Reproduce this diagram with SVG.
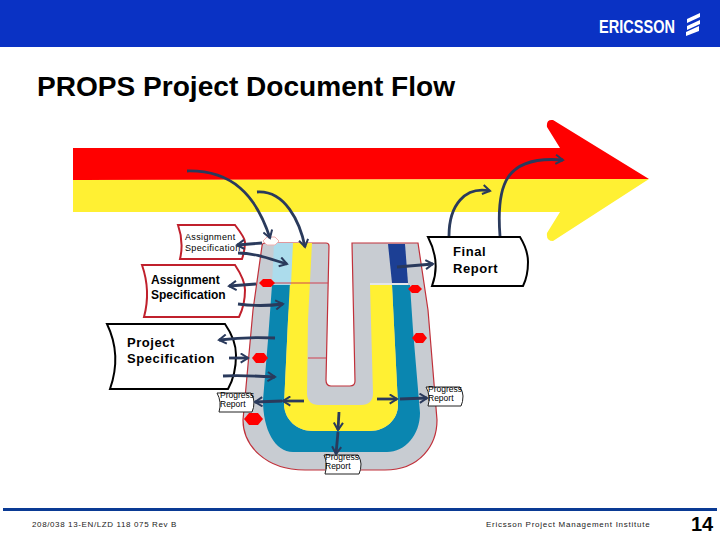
<svg xmlns="http://www.w3.org/2000/svg" width="720" height="540" viewBox="0 0 720 540">
<defs>
<marker id="ah" viewBox="0 0 12 12" refX="10" refY="6" markerWidth="11" markerHeight="11" markerUnits="userSpaceOnUse" orient="auto"><path d="M2,1 L10,6 L2,11" fill="none" stroke="#2a3a5c" stroke-width="2.2"/></marker>
</defs>
<style>
text{font-family:"Liberation Sans",Arial,sans-serif;fill:#000}
.doc{fill:#fff;stroke-width:2}
.r{stroke:#c0202c}
.k{stroke:#000}
.sm{font-size:9px;letter-spacing:.35px}
.md{font-size:12px;font-weight:bold}
.lg{font-size:13px;font-weight:bold;letter-spacing:.55px}
.pr{font-size:8.5px}
.pg{fill:#fff;stroke:#222;stroke-width:1}
.ft{font-size:8px;letter-spacing:.62px;fill:#222}
.dm{fill:#f00}
.c path{fill:none;stroke:#2a3a5c;stroke-width:2.8;marker-end:url(#ah)}
</style>
<rect width="720" height="47" fill="#0a32c4"/>
<text x="599" y="33" font-size="17.5" font-weight="bold" style="fill:#fff" textLength="76" lengthAdjust="spacingAndGlyphs">ERICSSON</text>
<g fill="#fff"><path d="M687,19 L700,13 L700,17 L687,23 Z"/><path d="M687,26 L700,20 L700,24 L687,30 Z"/><path d="M686,32 L699,26 L699,31 L686,36 Z"/></g>
<text x="37" y="96" font-size="27" font-weight="bold" textLength="418" lengthAdjust="spacingAndGlyphs">PROPS Project Document Flow</text>
<g id="big-arrow">
<path d="M73,148 L560,148 L547,127 Q546,119 553,120 L649,179 L73,180 Z" fill="#f00"/>
<path d="M73,180 L649,179 L553,241 Q546,241 547,233 L560,212 L73,212 Z" fill="#fff033"/>
</g>
<g id="u-shape">
<path d="M265,243 L326,243 Q329,243 329,246 L326,380 Q326,386 331,386 L350,386 Q355,386 355,381 L352,243 L418,243 L428,310 L437,420 C437,445 420,470 385,470 L305,470 C265,470 243,445 243,420 L253,310 L262,246 Q262,243 265,243 Z" fill="#c8ccd2" stroke="#c0303a" stroke-width="1.2"/>
<path d="M272,285 L291,285 L288,320 L284,405 C285,420 297,431 313,431 L370,431 C385,431 398,420 398,405 L392,285 L410,285 L413,330 L420,413 C420,435 405,452 387,452 L293,452 C275,452 263,430 263,400 L268,340 Z" fill="#0a86b0"/>
<path d="M292,243 L312,243 L308,320 L307,393 Q307,405 319,405 L361,405 Q373,405 373,393 L370,285 L392,285 L398,405 C398,420 385,431 370,431 L313,431 C297,431 285,420 284,405 L288,320 Z" fill="#fff033"/>
<path d="M274,243 L293,243 L291,285 L272,285 Z" fill="#acdcec"/>
<path d="M388,244 L405,244 L408,283 L392,283 Z" fill="#1c3f94"/>
<path d="M370,284 L408,284" stroke="#fff" stroke-width="1" fill="none"/>
<path d="M262,283 L328,283 M308,358 L326,358" stroke="#d04050" stroke-width="1" fill="none"/>
</g>
<g id="markers">
<path class="dm" d="M259,283 L263,279 L271,279 L275,283 L271,287 L263,287 Z"/>
<path class="dm" d="M252,358 L256,353 L264,353 L268,358 L264,363 L256,363 Z"/>
<path class="dm" d="M244,419 L249,413 L258,413 L263,419 L258,425 L249,425 Z"/>
<path class="dm" d="M412,338 L416,333 L423,333 L427,338 L423,343 L416,343 Z"/>
<path class="dm" d="M408,289 L412,285 L418,285 L422,289 L418,293 L412,293 Z"/>
<path d="M263,241 L267,237 L275,237 L279,241 L275,245 L267,245 Z" fill="#fff" stroke="#f0b0b0"/>
</g>
<g id="node-assignment-small">
<path class="doc r" d="M178,225 L235,225 Q245,238 245,242 Q245,250 242,259 L180,259 Q184,242 178,225 Z"/>
<text class="sm" x="185" y="240">Assignment</text><text class="sm" x="185" y="251">Specification</text>
</g>
<g id="node-assignment-large">
<path class="doc r" d="M142,265 L235,265 Q245,280 245,290 Q245,305 239,317 L144,317 Q151,291 142,265 Z"/>
<text class="md" x="151" y="284">Assignment</text><text class="md" x="151" y="299">Specification</text>
</g>
<g id="node-project">
<path class="doc k" d="M107,324 L225,324 Q236,340 236,355 Q236,375 228,389 L110,389 Q122,355 107,324 Z"/>
<text class="lg" x="127" y="347">Project</text><text class="lg" x="127" y="363">Specification</text>
</g>
<g id="node-final">
<path class="doc k" d="M428,237 L520,237 Q528,250 528,262 Q528,276 523,286 L432,286 Q441,262 428,237 Z"/>
<text class="lg" x="453" y="256">Final</text><text class="lg" x="453" y="273">Report</text>
</g>
<g id="node-progress-left">
<path class="pg" d="M217,393 L251,393 Q254,398 254,402 Q254,408 252,412 L219,412 Q222,402 217,393 Z"/>
<text class="pr" x="220" y="398">Progress</text><text class="pr" x="220" y="407">Report</text>
</g>
<g id="node-progress-right">
<path class="pg" d="M426,387 L460,387 Q463,392 463,396 Q463,402 461,406 L428,406 Q431,396 426,387 Z"/>
<text class="pr" x="428" y="392">Progress</text><text class="pr" x="428" y="401">Report</text>
</g>
<g id="node-progress-bottom">
<path class="pg" d="M324,455 L358,455 Q361,460 361,464 Q361,470 359,474 L325,474 Q328,464 324,455 Z"/>
<text class="pr" x="325" y="460">Progress</text><text class="pr" x="325" y="469">Report</text>
</g>
<g id="connectors" class="c">
<path d="M187,171 C232,170 256,195 270,238"/>
<path d="M257,192 C285,190 300,222 305,247"/>
<path d="M262,243 L237,245"/>
<path d="M238,253 C255,253 270,259 287,264"/>
<path d="M256,284 L229,286"/>
<path d="M238,304 C253,306 268,306 283,304"/>
<path d="M397,267 L433,264"/>
<path d="M449,236 C449,205 465,186 490,191"/>
<path d="M500,236 C496,185 505,155 563,160"/>
<path d="M275,338 C255,337 235,338 219,340"/>
<path d="M229,358 L248,358"/>
<path d="M223,376 C240,375 258,376 275,377"/>
<path d="M304,401 L283,401"/>
<path d="M282,401 L255,402"/>
<path d="M339,412 L338,430"/>
<path d="M338,432 L336,454"/>
<path d="M377,399 L397,399"/>
<path d="M400,399 L427,398"/>
</g>
<rect x="3" y="508" width="714" height="3" fill="#0a3a94"/>
<text class="ft" x="32" y="527">208/038 13-EN/LZD 118 075 Rev B</text>
<text class="ft" x="486" y="527" style="letter-spacing:.74px">Ericsson Project Management Institute</text>
<text x="691" y="531" font-size="20" font-weight="bold">14</text>
</svg>
